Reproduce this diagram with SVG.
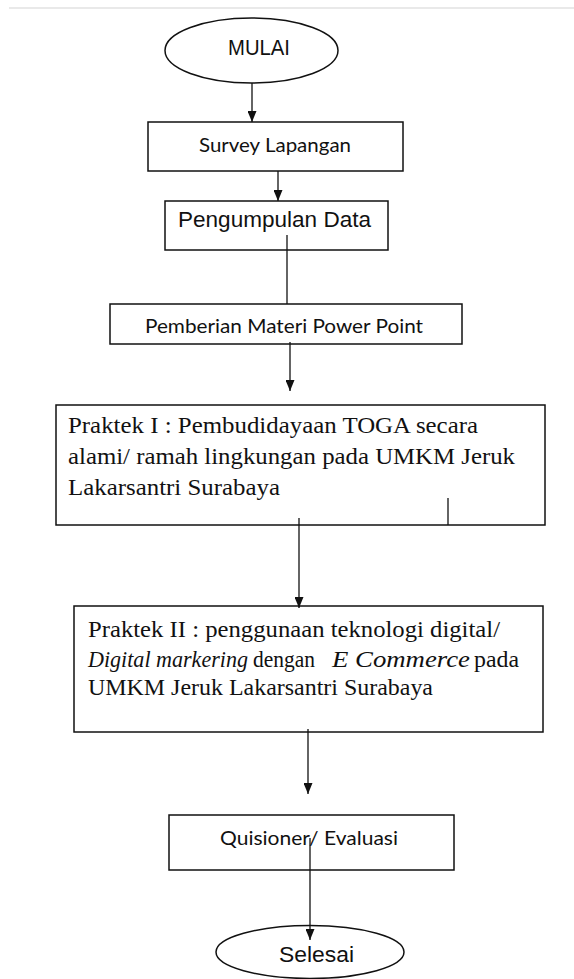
<svg xmlns="http://www.w3.org/2000/svg" width="574" height="979" viewBox="0 0 574 979">
<style>
.box{fill:#fff;stroke:#111;stroke-width:1.5}
.conn{fill:none;stroke:#111;stroke-width:1.3}
.ar{font-family:"Liberation Sans",Arial,sans-serif;font-size:22px;fill:#111}
.ca{font-family:Lato,"Open Sans",sans-serif;fill:#111}
.tm{font-family:"Liberation Serif","Times New Roman",serif;font-size:23px;fill:#111}
.it{font-style:italic}
</style>
<defs>
<marker id="ah" markerUnits="userSpaceOnUse" markerWidth="11" markerHeight="9" refX="11" refY="4.5" orient="auto">
<path d="M0,0 L11,4.5 L0,9 z" fill="#111"/>
</marker>
</defs>
<rect x="0" y="0" width="574" height="979" fill="#fff"/>
<line x1="9" y1="8" x2="574" y2="8" stroke="#e2e2e2" stroke-width="1.5"/>
<g id="mulai">
<ellipse class="box" cx="251.5" cy="50.5" rx="86.5" ry="32.5"/>
<text class="ar" x="228" y="55" textLength="62" lengthAdjust="spacingAndGlyphs">MULAI</text>
</g>
<g id="survey">
<rect class="box" x="148" y="122" width="255" height="49"/>
<text class="ca" font-size="20" x="199" y="152" textLength="152" lengthAdjust="spacingAndGlyphs">Survey Lapangan</text>
</g>
<g id="pengumpulan">
<rect class="box" x="165" y="201" width="223" height="49"/>
<text class="ar" x="178" y="227" textLength="193" lengthAdjust="spacingAndGlyphs">Pengumpulan Data</text>
</g>
<g id="pemberian">
<rect class="box" x="110" y="304" width="352" height="40"/>
<text class="ca" font-size="19" x="145" y="333" textLength="278" lengthAdjust="spacingAndGlyphs">Pemberian Materi Power Point</text>
</g>
<g id="praktek1">
<rect class="box" x="56" y="405" width="489" height="120"/>
<text class="tm" x="68" y="433" textLength="410" lengthAdjust="spacingAndGlyphs">Praktek I :  Pembudidayaan TOGA secara</text>
<text class="tm" x="68" y="464" textLength="447" lengthAdjust="spacingAndGlyphs">alami/ ramah lingkungan pada UMKM Jeruk</text>
<text class="tm" x="68" y="495" textLength="212" lengthAdjust="spacingAndGlyphs">Lakarsantri Surabaya</text>
</g>
<g id="praktek2">
<rect class="box" x="74" y="606" width="469" height="126"/>
<text class="tm" x="88" y="637" textLength="412" lengthAdjust="spacingAndGlyphs">Praktek II :  penggunaan teknologi digital/</text>
<text class="tm" y="667"><tspan class="it" x="88" textLength="160" lengthAdjust="spacingAndGlyphs">Digital markering</tspan><tspan x="253" textLength="62" lengthAdjust="spacingAndGlyphs">dengan</tspan><tspan class="it" x="332" textLength="138" lengthAdjust="spacingAndGlyphs">E Commerce</tspan><tspan x="474" textLength="45" lengthAdjust="spacingAndGlyphs">pada</tspan></text>
<text class="tm" x="88" y="695" textLength="345" lengthAdjust="spacingAndGlyphs">UMKM Jeruk Lakarsantri Surabaya</text>
</g>
<g id="quisioner">
<rect class="box" x="169" y="815" width="285" height="55"/>
<text class="ca" font-size="20" x="220" y="845" textLength="178" lengthAdjust="spacingAndGlyphs">Quisioner/ Evaluasi</text>
</g>
<g id="selesai">
<ellipse class="box" cx="310" cy="952" rx="94" ry="26.5"/>
<text class="ar" x="279" y="962" textLength="75" lengthAdjust="spacingAndGlyphs">Selesai</text>
</g>
<g id="connectors">
<line class="conn" x1="252" y1="83" x2="252" y2="122" marker-end="url(#ah)"/>
<line class="conn" x1="278" y1="171" x2="278" y2="201" marker-end="url(#ah)"/>
<line class="conn" x1="287" y1="235" x2="287" y2="304"/>
<line class="conn" x1="290" y1="342" x2="290" y2="391" marker-end="url(#ah)"/>
<line class="conn" x1="448" y1="498" x2="448" y2="525"/>
<line class="conn" x1="299" y1="518" x2="299" y2="608" marker-end="url(#ah)"/>
<line class="conn" x1="308" y1="729" x2="308" y2="794" marker-end="url(#ah)"/>
<line class="conn" x1="310" y1="838" x2="310" y2="940" marker-end="url(#ah)"/>
</g>
</svg>
